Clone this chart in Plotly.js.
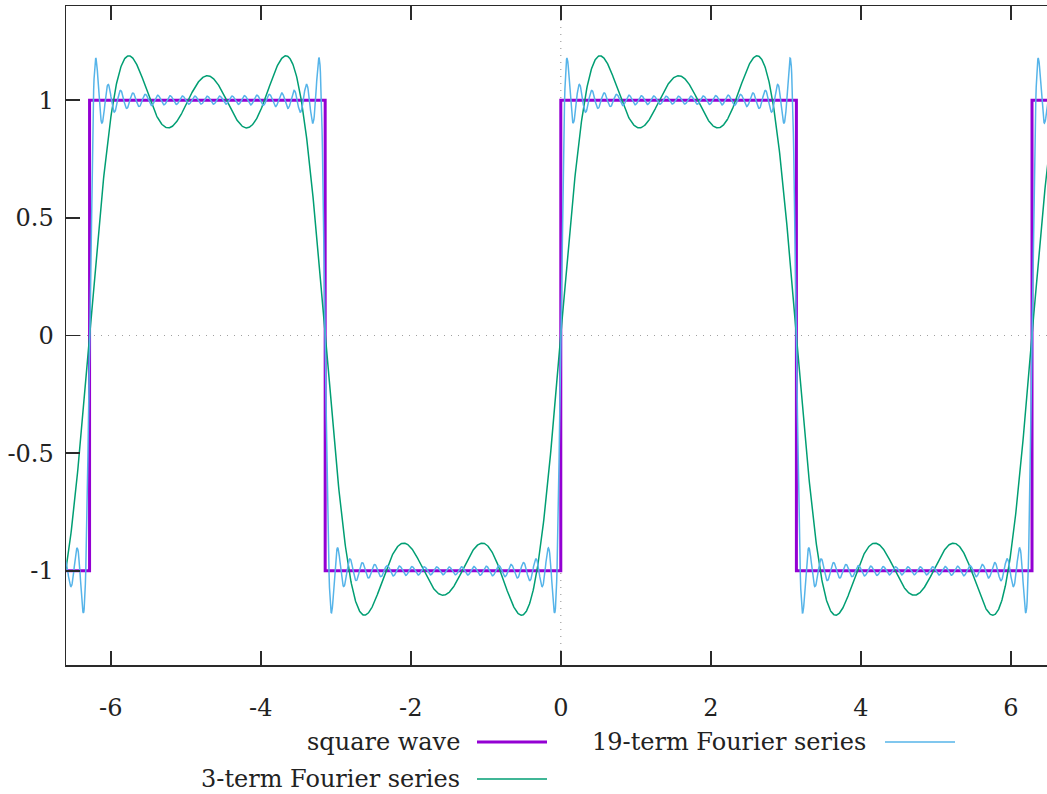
<!DOCTYPE html>
<html>
<head>
<meta charset="utf-8">
<script src="https://cdn.plot.ly/plotly-3.0.1.min.js"></script>
<style>
html,body{margin:0;padding:0;overflow:hidden;background:#fff;}
#chart{width:1047px;height:794px;}
</style>
</head>
<body>
<div id="chart"></div>
<script>
// ---- data ----
// square wave breakpoints (x in units of pi) and levels
var squareXpi = [-2.1, -2, -2, -1, -1, 0, 0, 1, 1, 2, 2, 2.1];
var squareY   = [-1, -1, 1, 1, -1, -1, 1, 1, -1, -1, 1, 1];
// odd harmonics used by each partial Fourier sum (amplitude 4/(pi*n))
var harmonics3  = [1, 3, 5];
var harmonics19 = [1, 3, 5, 7, 9, 11, 13, 15, 17, 19, 21, 23, 25, 27, 29, 31, 33, 35, 37];
var seriesNames = ["square wave", "3-term Fourier series", "19-term Fourier series"];
var seriesColors = ["#9400d3", "#009e73", "#56b4e9"];
var xTicks = [-6, -4, -2, 0, 2, 4, 6];
var yTicks = [-1, -0.5, 0, 0.5, 1];
var xRange = [-2.1 * Math.PI, 6.483];
var yRange = [-1.4, 1.4];

// ---- build ----
var PI = Math.PI;
var squareX = squareXpi.map(function (v) { return v * PI; });
var nS = 2400, xs = [];
for (var i = 0; i <= nS; i++) xs.push(-2.1 * PI + 4.2 * PI * i / nS);
function partialSum(h) {
  return xs.map(function (x) {
    var s = 0;
    h.forEach(function (n) { s += 4 / (PI * n) * Math.sin(n * x); });
    return s;
  });
}
var f3 = partialSum(harmonics3);
var f19 = partialSum(harmonics19);

var traces = [
  {x: squareX, y: squareY, mode: 'lines', name: seriesNames[0], line: {color: seriesColors[0], width: 3}},
  {x: xs, y: f3, mode: 'lines', name: seriesNames[1], line: {color: seriesColors[1], width: 1.5}},
  {x: xs, y: f19, mode: 'lines', name: seriesNames[2], line: {color: seriesColors[2], width: 1.5}}
];

var W = 1047, H = 794, L = 66, T = 6, B = 129, R = 0;
var PW = W - L - R, PH = H - T - B;
function px(xp) { return (xp - L) / PW; }
function py(yp) { return (H - B - yp) / PH; }

var FONT = "DejaVu Serif";
var fs = 24;
var axisCol = "#2a2a2a";

var legendRows = [
  {text: seriesNames[0], tx: 462, lx0: 477, lx1: 547, y: 742, color: seriesColors[0], w: 3},
  {text: seriesNames[1], tx: 462, lx0: 477, lx1: 547, y: 779, color: seriesColors[1], w: 1.5},
  {text: seriesNames[2], tx: 868, lx0: 885, lx1: 955, y: 742, color: seriesColors[2], w: 1.5}
];

var annotations = legendRows.map(function (r) {
  return {xref: 'paper', yref: 'paper', x: px(r.tx), y: py(r.y), xanchor: 'right', yanchor: 'middle',
    text: r.text, showarrow: false, font: {family: FONT, size: fs, color: '#222'}};
});
var shapes = legendRows.map(function (r) {
  return {type: 'line', xref: 'paper', yref: 'paper', x0: px(r.lx0), x1: px(r.lx1), y0: py(r.y), y1: py(r.y),
    line: {color: r.color, width: r.w}};
});
// dotted zero axes
shapes.push({type: 'line', xref: 'paper', yref: 'y', x0: 0, x1: 1, y0: 0, y1: 0, layer: 'below',
  line: {color: '#a0a0a0', width: 1.2, dash: '1px,6px'}});
shapes.push({type: 'line', xref: 'x', yref: 'paper', x0: 0, x1: 0, y0: 0, y1: 1, layer: 'below',
  line: {color: '#a0a0a0', width: 1.2, dash: '1px,6px'}});

var layout = {
  width: W, height: H,
  margin: {l: L, r: R, t: T, b: B, pad: 0},
  paper_bgcolor: '#fff', plot_bgcolor: '#fff',
  showlegend: false,
  font: {family: FONT, size: fs, color: '#222'},
  xaxis: {range: xRange, tickvals: xTicks, ticktext: xTicks.map(String), ticks: 'inside', ticklen: 14, tickwidth: 1.5,
    tickcolor: axisCol, showline: true, linecolor: axisCol, linewidth: 1.5, mirror: 'ticks',
    showgrid: false, zeroline: false, ticklabelstandoff: 21, tickfont: {family: FONT, size: fs, color: '#222'}},
  yaxis: {range: yRange, tickvals: yTicks, ticktext: yTicks.map(String), ticks: 'inside', ticklen: 14, tickwidth: 1.5,
    tickcolor: axisCol, showline: true, linecolor: axisCol, linewidth: 1.5, mirror: false,
    showgrid: false, zeroline: false, ticklabelstandoff: 6, tickfont: {family: FONT, size: fs, color: '#222'}},
  annotations: annotations,
  shapes: shapes
};

Plotly.newPlot('chart', traces, layout, {staticPlot: true, displayModeBar: false});
</script>
</body>
</html>
